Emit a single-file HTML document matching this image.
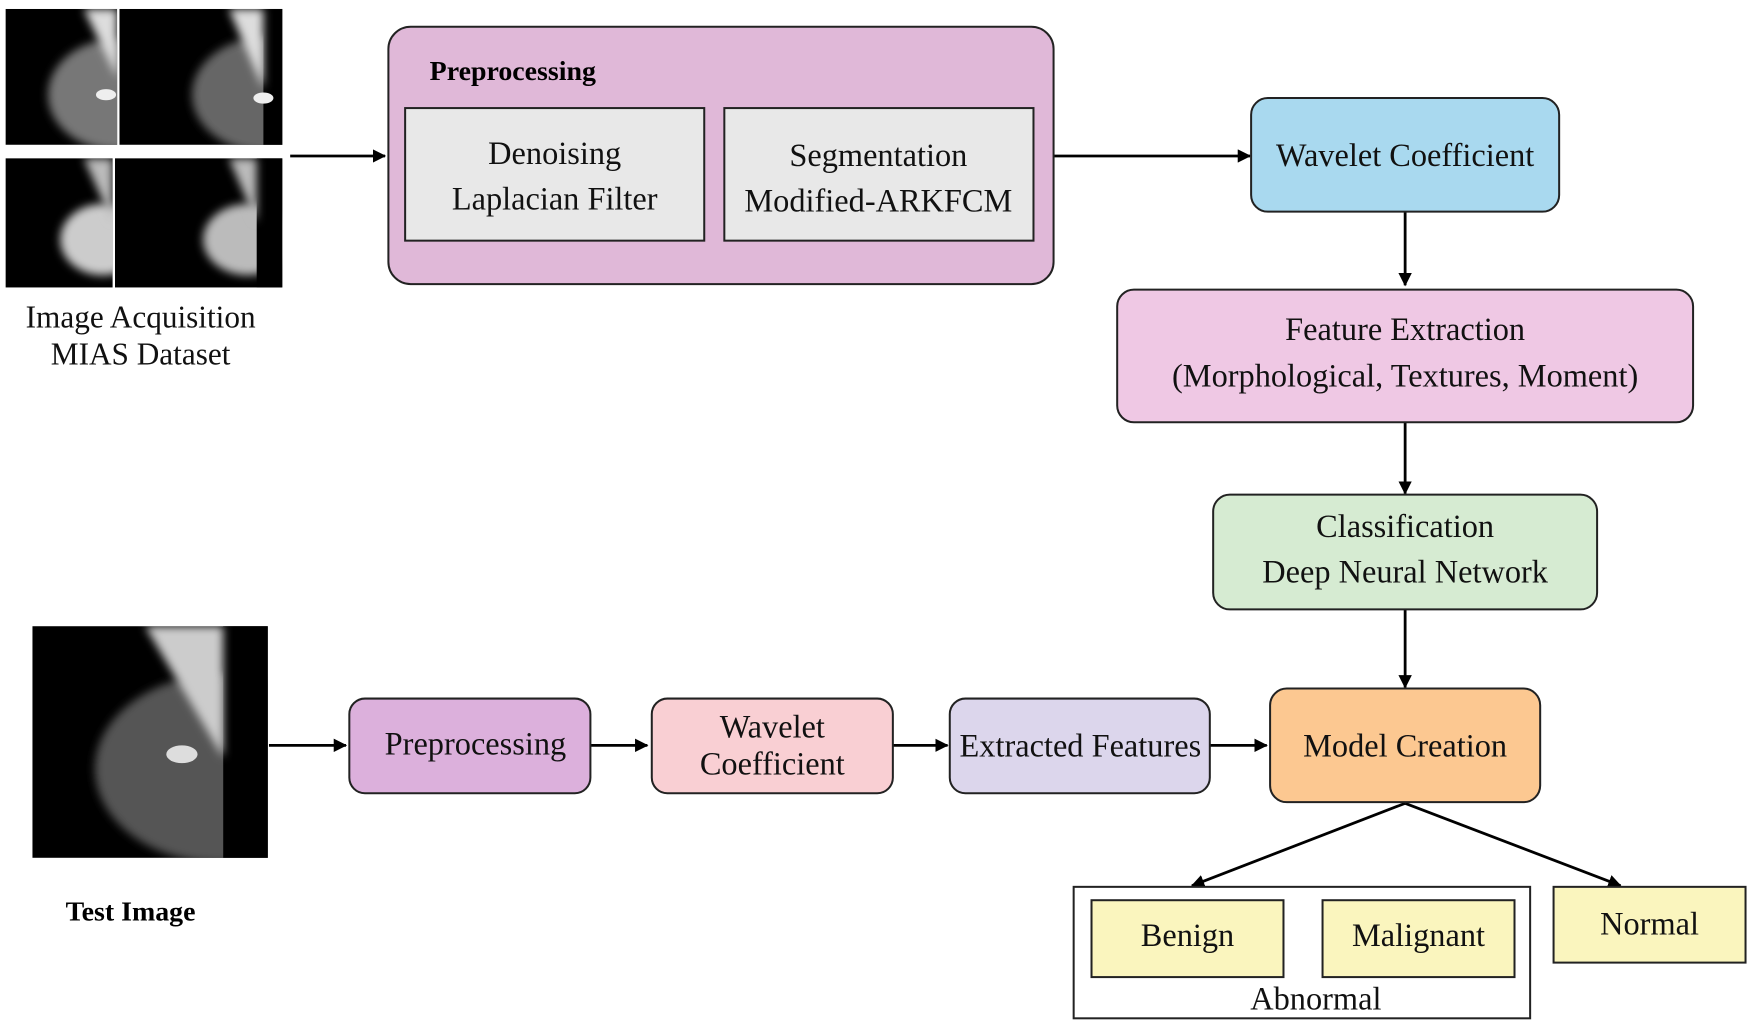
<!DOCTYPE html>
<html><head><meta charset="utf-8"><style>html,body{margin:0;padding:0;background:#fff}svg{display:block}</style></head><body>
<svg width="1750" height="1025" viewBox="0 0 1568 920" preserveAspectRatio="none" xmlns="http://www.w3.org/2000/svg" font-family="'Liberation Serif', serif">
<defs>
<filter id="b" x="-50%" y="-50%" width="200%" height="200%"><feGaussianBlur stdDeviation="4"/></filter>
<marker id="a" markerWidth="12" markerHeight="12" refX="11" refY="6" orient="auto" markerUnits="userSpaceOnUse"><path d="M0,0 L12,6 L0,12 z" fill="#000"/></marker>
<clipPath id="c1"><rect x="5" y="8" width="100" height="122"/></clipPath>
<clipPath id="c2"><rect x="107" y="8" width="146" height="122"/></clipPath>
<clipPath id="c3"><rect x="5" y="142" width="96" height="116"/></clipPath>
<clipPath id="c4"><rect x="103" y="142" width="150" height="116"/></clipPath>
<clipPath id="c5"><rect x="29" y="562" width="211" height="208"/></clipPath>
</defs>
<rect x="5" y="8" width="248" height="250" fill="#fff"/>
<g clip-path="url(#c1)"><rect x="5" y="8" width="100" height="122" fill="#000"/><ellipse cx="105" cy="85" rx="62" ry="50" fill="#777" filter="url(#b)"/><path d="M75,8 L105,8 L105,70 Z" fill="#ddd" filter="url(#b)"/><ellipse cx="95" cy="85" rx="9" ry="5" fill="#eee"/></g>
<g clip-path="url(#c2)"><rect x="107" y="8" width="146" height="122" fill="#000"/><ellipse cx="240" cy="85" rx="68" ry="52" fill="#666" filter="url(#b)"/><rect x="236" y="8" width="17" height="122" fill="#000"/><path d="M205,8 L236,8 L236,80 Z" fill="#ddd" filter="url(#b)"/><ellipse cx="236" cy="88" rx="9" ry="5" fill="#eee"/></g>
<g clip-path="url(#c3)"><rect x="5" y="142" width="96" height="116" fill="#000"/><ellipse cx="92" cy="215" rx="38" ry="32" fill="#ccc" filter="url(#b)"/><path d="M75,142 L101,142 L101,200 Z" fill="#bbb" filter="url(#b)"/></g>
<g clip-path="url(#c4)"><rect x="103" y="142" width="150" height="116" fill="#000"/><ellipse cx="222" cy="215" rx="40" ry="32" fill="#bbb" filter="url(#b)"/><rect x="230" y="142" width="23" height="116" fill="#000"/><path d="M205,142 L230,142 L230,200 Z" fill="#bbb" filter="url(#b)"/></g>
<g clip-path="url(#c5)"><rect x="29" y="562" width="211" height="208" fill="#000"/><ellipse cx="200" cy="690" rx="115" ry="85" fill="#555" filter="url(#b)"/><rect x="200" y="562" width="40" height="208" fill="#000"/><path d="M130,562 L200,562 L200,680 Z" fill="#ccc" filter="url(#b)"/><ellipse cx="163" cy="677" rx="14" ry="8" fill="#ddd"/></g>

<g font-size="28" text-anchor="middle" fill="#111">
<text x="126" y="294">Image Acquisition</text>
<text x="126" y="327">MIAS Dataset</text>
</g>
<text x="117" y="826" font-size="25" font-weight="bold" text-anchor="middle">Test Image</text>

<g stroke="#000" stroke-width="2.5" fill="none" marker-end="url(#a)">
<line x1="260" y1="140" x2="345" y2="140"/>
<line x1="944" y1="140" x2="1120" y2="140"/>
<line x1="1259" y1="190" x2="1259" y2="256"/>
<line x1="1259" y1="379" x2="1259" y2="443"/>
<line x1="1259" y1="547" x2="1259" y2="617"/>
<line x1="241" y1="669" x2="310" y2="669"/>
<line x1="529" y1="669" x2="580" y2="669"/>
<line x1="800" y1="669" x2="849" y2="669"/>
<line x1="1084" y1="669" x2="1135" y2="669"/>
<line x1="1259" y1="721" x2="1068" y2="795"/>
<line x1="1259" y1="721" x2="1452" y2="795"/>
</g>

<g stroke="#222" stroke-width="1.8">
<rect x="348" y="24" width="596" height="231" rx="20" fill="#e0b8d8"/>
<rect x="363" y="97" width="268" height="119" fill="#e8e8e8"/>
<rect x="649" y="97" width="277" height="119" fill="#e8e8e8"/>
<rect x="1121" y="88" width="276" height="102" rx="15" fill="#a9d9ef"/>
<rect x="1001" y="260" width="516" height="119" rx="15" fill="#efc8e4"/>
<rect x="1087" y="444" width="344" height="103" rx="15" fill="#d6ebd2"/>
<rect x="1138" y="618" width="242" height="102" rx="15" fill="#fcc891"/>
<rect x="313" y="627" width="216" height="85" rx="14" fill="#dcb0dc"/>
<rect x="584" y="627" width="216" height="85" rx="14" fill="#f9cfd3"/>
<rect x="851" y="627" width="233" height="85" rx="14" fill="#dcd6ec"/>
<rect x="962" y="796" width="409" height="118" fill="#fff"/>
<rect x="978" y="808" width="172" height="69" fill="#faf5be"/>
<rect x="1185" y="808" width="172" height="69" fill="#faf5be"/>
<rect x="1392" y="796" width="172" height="68" fill="#faf5be"/>
</g>

<text x="385" y="72" font-size="25" font-weight="bold">Preprocessing</text>
<g font-size="29" text-anchor="middle" fill="#111">
<text x="497" y="147">Denoising</text>
<text x="497" y="188">Laplacian Filter</text>
<text x="787" y="149">Segmentation</text>
<text x="787" y="190">Modified-ARKFCM</text>
<text x="1259" y="149">Wavelet Coefficient</text>
<text x="1259" y="305">Feature Extraction</text>
<text x="1259" y="347">(Morphological, Textures, Moment)</text>
<text x="1259" y="482">Classification</text>
<text x="1259" y="523">Deep Neural Network</text>
<text x="1259" y="679">Model Creation</text>
<text x="426" y="677">Preprocessing</text>
<text x="692" y="662">Wavelet</text>
<text x="692" y="695">Coefficient</text>
<text x="968" y="679">Extracted Features</text>
<text x="1064" y="849">Benign</text>
<text x="1271" y="849">Malignant</text>
<text x="1478" y="839">Normal</text>
<text x="1179" y="906">Abnormal</text>
</g>
</svg>
</body></html>
